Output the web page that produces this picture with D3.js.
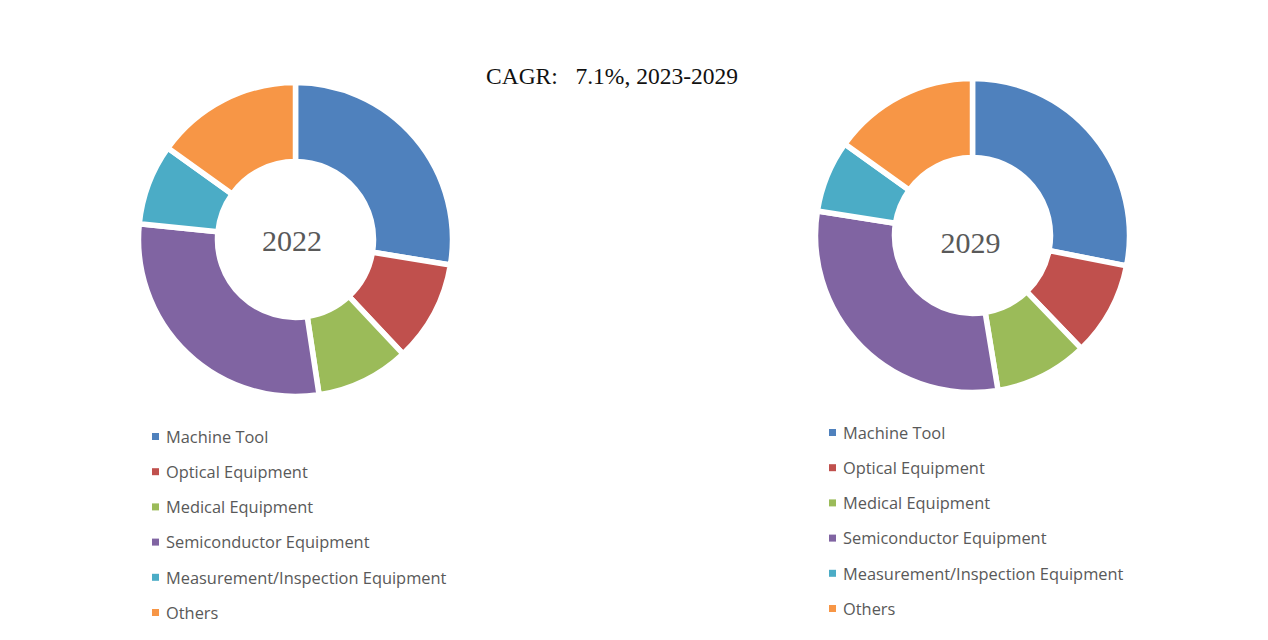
<!DOCTYPE html>
<html><head><meta charset="utf-8">
<script src="https://cdn.jsdelivr.net/npm/d3@7"></script>
<style>body{margin:0;background:#fff}</style>
</head><body>
<svg id="c" width="1268" height="640"></svg>
<script>
const categories = ["Machine Tool","Optical Equipment","Medical Equipment","Semiconductor Equipment","Measurement/Inspection Equipment","Others"];
const colors = ["#4F81BD","#C0504D","#9BBB59","#8064A2","#4BACC6","#F79646"];
const values2022 = [27.6, 10.4, 9.6, 29.0, 8.3, 15.1];
const values2029 = [28.1, 9.7, 9.6, 30.1, 7.4, 15.1];
const years = ["2022","2029"];
const titleText = "CAGR:\u00a0\u00a0\u00a07.1%, 2023-2029";

const svg = d3.select("#c");
svg.append("text").attr("x",612).attr("y",84).attr("text-anchor","middle")
  .attr("font-family","'Liberation Serif', serif").attr("font-size",23.5).attr("fill","#111")
  .text(titleText);

const charts = [
  {vals: values2022, year: years[0], cx: 295.5, cy: 239.5, tx: -3.5, ty: 0.5, lx: 152, ly: 437},
  {vals: values2029, year: years[1], cx: 972.5, cy: 235.5, tx: -2, ty: 6.5, lx: 829, ly: 433}
];
const pie = d3.pie().sort(null).value(d=>d);
const arc = d3.arc().innerRadius(78).outerRadius(157);
charts.forEach(ch=>{
  const g = svg.append("g").attr("transform",`translate(${ch.cx},${ch.cy})`);
  g.selectAll("path").data(pie(ch.vals)).join("path")
    .attr("d",arc).attr("fill",(d,i)=>colors[i]).attr("stroke","#fff").attr("stroke-width",5.5).attr("stroke-linejoin","miter");
  g.append("text").attr("x",ch.tx).attr("y",ch.ty).attr("text-anchor","middle").attr("dy","0.35em")
    .attr("font-family","'Liberation Serif', serif").attr("font-size",30).attr("fill","#595959").text(ch.year);
  const lg = svg.append("g");
  categories.forEach((c,i)=>{
    const y = ch.ly + i*35.2;
    lg.append("rect").attr("x",ch.lx).attr("y",y-4).attr("width",7).attr("height",7).attr("fill",colors[i]);
    lg.append("text").attr("x",ch.lx+14).attr("y",y).attr("dy","0.35em")
      .attr("font-family","'Open Sans', sans-serif").attr("font-size",16.4).attr("fill","#595959").text(c);
  });
});
</script>
</body></html>
